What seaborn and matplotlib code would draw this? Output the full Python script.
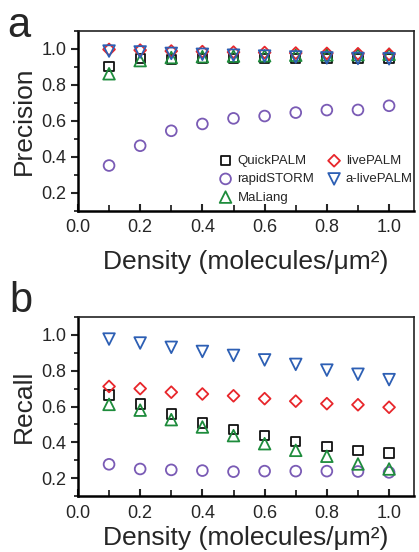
import numpy as np
import pandas as pd
import matplotlib
matplotlib.use("Agg")
import matplotlib.pyplot as plt
from matplotlib.ticker import MultipleLocator
import seaborn as sns

density = [0.1, 0.2, 0.3, 0.4, 0.5, 0.6, 0.7, 0.8, 0.9, 1.0]
methods = ["QuickPALM", "rapidSTORM", "MaLiang", "livePALM", "a-livePALM"]

prec_quickpalm = [0.904, 0.945, 0.940, 0.945, 0.945, 0.945, 0.945, 0.945, 0.945, 0.945]
prec_rapidstorm = [0.352, 0.462, 0.545, 0.583, 0.614, 0.627, 0.646, 0.660, 0.661, 0.684]
prec_maliang = [0.862, 0.935, 0.952, 0.957, 0.960, 0.962, 0.965, 0.967, 0.968, 0.970]
prec_livepalm = [0.997, 0.993, 0.988, 0.985, 0.982, 0.980, 0.977, 0.975, 0.973, 0.970]
prec_alivepalm = [0.988, 0.983, 0.975, 0.970, 0.965, 0.960, 0.955, 0.950, 0.947, 0.945]

rec_quickpalm = [0.664, 0.614, 0.558, 0.508, 0.471, 0.438, 0.406, 0.378, 0.356, 0.341]
rec_rapidstorm = [0.278, 0.252, 0.247, 0.243, 0.237, 0.240, 0.240, 0.240, 0.238, 0.233]
rec_maliang = [0.612, 0.580, 0.527, 0.486, 0.438, 0.393, 0.356, 0.323, 0.280, 0.252]
rec_livepalm = [0.712, 0.700, 0.680, 0.670, 0.660, 0.644, 0.630, 0.616, 0.610, 0.596]
rec_alivepalm = [0.976, 0.954, 0.930, 0.907, 0.885, 0.860, 0.835, 0.803, 0.780, 0.750]

colors = ["#111111", "#7a5bb5", "#1e8c3c", "#e8262b", "#2d5fb4"]
markers = ["s", "o", "^", "D", "v"]
sizes = [45, 60, 70, 36, 70]

sns.set_style("ticks")
plt.rcParams["font.family"] = ["Liberation Sans", "DejaVu Sans"]

fig = plt.figure(figsize=(4.19, 5.52), dpi=100)
ax1 = fig.add_axes([0.186, 0.618, 0.802, 0.326])
ax2 = fig.add_axes([0.186, 0.101, 0.802, 0.325])

prec = [prec_quickpalm, prec_rapidstorm, prec_maliang, prec_livepalm, prec_alivepalm]
rec = [rec_quickpalm, rec_rapidstorm, rec_maliang, rec_livepalm, rec_alivepalm]

for ax, data, ylab, lpad in [(ax1, prec, "Precision", 10), (ax2, rec, "Recall", 3)]:
    for name, vals, c, m, s in zip(methods, data, colors, markers, sizes):
        df = pd.DataFrame({"density": density, "value": vals})
        sns.scatterplot(data=df, x="density", y="value", ax=ax, marker=m, s=s,
                        facecolor="none", edgecolor=c, linewidth=1.3, label=name,
                        zorder=3)
    ax.set_xlim(0, 1.08)
    ax.set_ylim(0.1, 1.1)
    ax.set_xticks([0.0, 0.2, 0.4, 0.6, 0.8, 1.0])
    ax.set_yticks([0.2, 0.4, 0.6, 0.8, 1.0])
    ax.xaxis.set_minor_locator(MultipleLocator(0.1))
    ax.yaxis.set_minor_locator(MultipleLocator(0.1))
    ax.tick_params(axis="x", which="major", direction="in", length=5, width=1.5,
                   labelsize=13, pad=6)
    ax.tick_params(axis="x", which="minor", direction="in", length=4, width=1.3)
    ax.tick_params(axis="y", which="major", direction="out", length=5, width=1.5,
                   labelsize=13)
    ax.tick_params(axis="y", which="minor", direction="out", length=3, width=1.3)
    for sp in ["left", "bottom"]:
        ax.spines[sp].set_linewidth(1.8)
        ax.spines[sp].set_color("black")
    for sp in ["top", "right"]:
        ax.spines[sp].set_visible(True)
        ax.spines[sp].set_linewidth(1.2)
        ax.spines[sp].set_color("#222222")
    ax.set_xlabel("Density (molecules/μm²)", fontsize=19, labelpad=lpad)
    ax.set_ylabel(ylab, fontsize=19, labelpad=4)

leg = ax1.legend(ncol=2, frameon=False, loc="upper left", bbox_to_anchor=(0.40, 0.34),
                 fontsize=9.5, handletextpad=0.3, columnspacing=0.9,
                 labelspacing=0.45, borderaxespad=0, handlelength=1.2)
ax2.get_legend().remove()

fig.text(0.018, 1 - 37 / 552, "a", fontsize=30, va="baseline", ha="left")
fig.text(0.022, 1 - 312 / 552, "b", fontsize=30, va="baseline", ha="left")

fig.savefig("out.png", dpi=100)
